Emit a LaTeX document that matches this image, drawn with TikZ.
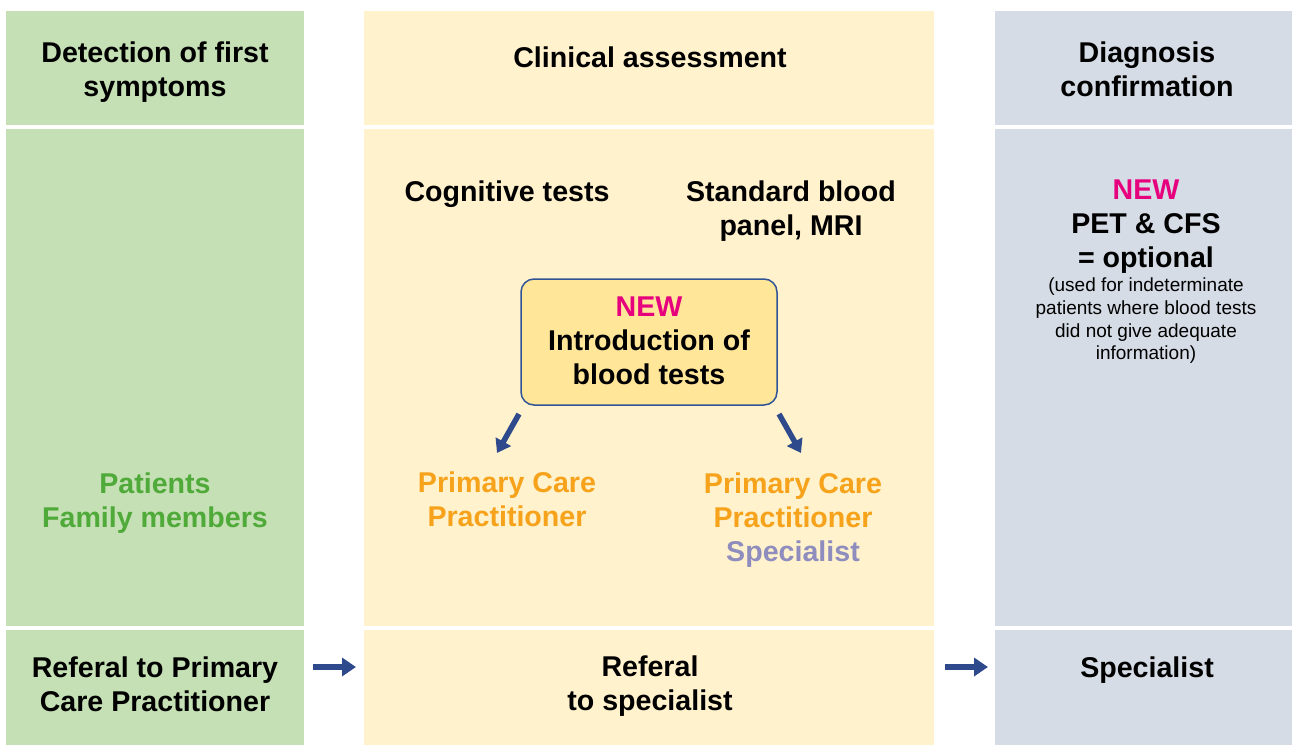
\documentclass[tikz,border=0pt]{standalone}
\usepackage{fontspec}
\setmainfont{Liberation Sans}
\usetikzlibrary{arrows.meta}
\definecolor{cgreen}{HTML}{C5E0B4}
\definecolor{cyellow}{HTML}{FFF2CC}
\definecolor{cgray}{HTML}{D6DCE5}
\definecolor{boxfill}{HTML}{FFE699}
\definecolor{boxline}{HTML}{2F5597}
\definecolor{arrowblue}{HTML}{2F4A8C}
\definecolor{newpink}{HTML}{E6007E}
\definecolor{pcporange}{HTML}{F7A21B}
\definecolor{specpurple}{HTML}{8E8DBE}
\definecolor{famgreen}{HTML}{4FAA3A}
\tikzset{
  cell/.style={draw=none, inner sep=0pt, outer sep=0pt, anchor=north west},
  big/.style={font=\bfseries\fontsize{28.6}{34}\selectfont, align=center, inner sep=0pt},
  small/.style={font=\fontsize{19}{22.7}\selectfont, align=center, inner sep=0pt},
  flow/.style={draw=arrowblue, line width=6.5pt, -{Triangle[width=18pt,length=14pt]}},
  diag/.style={draw=arrowblue, line width=5.5pt, -{Triangle[width=17pt,length=13pt]}},
}
\begin{document}
\begin{tikzpicture}[x=1pt,y=-1pt]
\useasboundingbox (0,0) rectangle (1292,745);
% column cells: header, body, footer
\node[cell, fill=cgreen, minimum width=298pt, minimum height=114pt] (gh) at (6,11) {};
\node[cell, fill=cgreen, minimum width=298pt, minimum height=497pt] (gb) at (6,129) {};
\node[cell, fill=cgreen, minimum width=298pt, minimum height=115pt] (gf) at (6,630) {};
\node[cell, fill=cyellow, minimum width=570pt, minimum height=114pt] (yh) at (364,11) {};
\node[cell, fill=cyellow, minimum width=570pt, minimum height=497pt] (yb) at (364,129) {};
\node[cell, fill=cyellow, minimum width=570pt, minimum height=115pt] (yf) at (364,630) {};
\node[cell, fill=cgray, minimum width=297pt, minimum height=114pt] (rh) at (995,11) {};
\node[cell, fill=cgray, minimum width=297pt, minimum height=497pt] (rb) at (995,129) {};
\node[cell, fill=cgray, minimum width=297pt, minimum height=115pt] (rf) at (995,630) {};

% headers
\node[big] (t1) at (155,72) {Detection of first\\symptoms};
\node[big] (t2) at (650,57) {Clinical assessment};
\node[big] (t3) at (1147,69) {Diagnosis\\confirmation};

% left body
\node[big, text=famgreen] (fam) at (155,503) {Patients\\Family members};

% middle body
\node[big] (cog) at (507,194) {Cognitive tests};
\node[big] (std) at (791,211) {Standard blood\\panel, MRI};
\node[draw=boxline, line width=1.5pt, fill=boxfill, rounded corners=13pt,
      minimum width=256pt, minimum height=126pt, inner sep=0pt] (box) at (649,342) {};
\node[big] (boxtxt) at (649,341) {\textcolor{newpink}{NEW}\\Introduction of\\blood tests};
\node[big, text=pcporange] (pcp1) at (507,499.5) {Primary Care\\Practitioner};
\node[big, text=pcporange] (pcp2) at (793,520)
  {Primary Care\\Practitioner\\\textcolor{specpurple}{Specialist}};

\coordinate (a1s) at (519,414);
\coordinate (a1e) at (497,453);
\coordinate (a2s) at (779,414);
\coordinate (a2e) at (801,453);
\draw[diag] (a1s) -- (a1e);
\draw[diag] (a2s) -- (a2e);

% right body
\node[big] (pet) at (1146,227) {\textcolor{newpink}{NEW}\\PET \& CFS\\= optional};
\node[small] (used) at (1146,321)
  {(used for indeterminate\\patients where blood tests\\did not give adequate\\information)};

% footers
\node[big] (f1) at (155,684) {Referal to Primary\\Care Practitioner};
\node[big] (f2) at (650,686) {Referal\\to specialist};
\node[big] (f3) at (1147,670) {Specialist};

% arrows between the footer cells
\coordinate (lane) at (0,667);
\draw[flow, shorten <=9pt, shorten >=8pt] (gf.east |- lane) -- (yf.west |- lane);
\draw[flow, shorten <=11pt, shorten >=7pt] (yf.east |- lane) -- (rf.west |- lane);
\end{tikzpicture}
\end{document}
